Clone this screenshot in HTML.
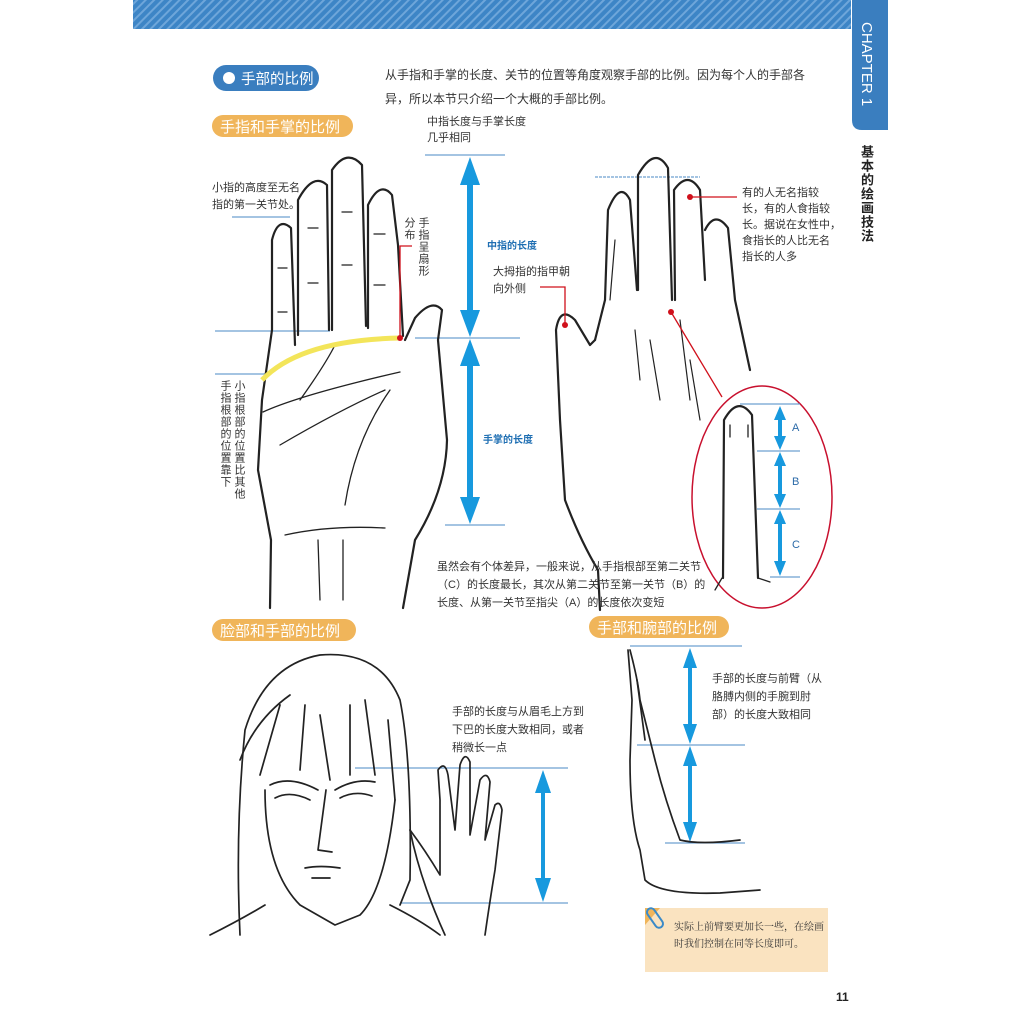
<!DOCTYPE html>
<html><head><meta charset="utf-8"><style>
html,body{margin:0;padding:0;background:#fff}
#p{position:relative;width:1024px;height:1024px;overflow:hidden;font-family:"Liberation Sans","Noto Sans CJK SC",sans-serif;color:#333}
.t{position:absolute;font-size:11px;line-height:17px;white-space:nowrap;color:#333}
.v{position:absolute;writing-mode:vertical-rl;font-size:11px;line-height:14px;letter-spacing:1px;color:#333}
svg{position:absolute;left:0;top:0}
</style></head><body><div id="p">
<svg width="1024" height="1024" viewBox="0 0 1024 1024">
<defs>
<pattern id="st" width="6" height="6" patternUnits="userSpaceOnUse" patternTransform="rotate(45)">
<rect width="6" height="6" fill="#3d85c6"/><rect width="2" height="6" fill="#6ea6da"/></pattern>
</defs>
<rect x="133" y="0" width="718" height="29" fill="url(#st)"/>
<path d="M852 0 H888 V130 H862 Q852 130 852 120 Z" fill="#3a7ebf"/>
<text x="862" y="22" fill="#fff" font-size="15" font-family="Liberation Sans" transform="rotate(90 862 22)">CHAPTER 1</text>
<!-- pills -->
<rect x="213" y="65" width="106" height="26" rx="13" fill="#3a7ebf"/>
<circle cx="229" cy="78" r="6" fill="#fff"/>
<text x="241" y="84" fill="#fff" font-size="14.5">手部的比例</text>
<rect x="212" y="115" width="141" height="22" rx="11" fill="#f0b55a"/>
<text x="220" y="132" fill="#fff" font-size="15">手指和手掌的比例</text>
<rect x="212" y="619" width="144" height="22" rx="11" fill="#f0b55a"/>
<text x="220" y="636" fill="#fff" font-size="15">脸部和手部的比例</text>
<rect x="589" y="616" width="140" height="22" rx="11" fill="#f0b55a"/>
<text x="597" y="633" fill="#fff" font-size="15">手部和腕部的比例</text>

<!-- ellipse zoom (behind lines/arrows) -->
<ellipse cx="762" cy="497" rx="70" ry="111" fill="#fff" stroke="#c8102e" stroke-width="1.5"/>
<g fill="none" stroke="#222" stroke-width="2.2" stroke-linecap="round">
<path d="M723,578 L724,420 Q738,395 752,415 L758,578"/>
<path d="M730,437 L730,425 M748,437 L748,425 M758,578 L770,582 M722,578 L715,590" stroke-width="1.3"/>
</g>

<!-- blue guide lines -->
<g stroke="#4a88c4" stroke-width="1">
<line x1="425" y1="155" x2="505" y2="155"/><line x1="415" y1="338" x2="520" y2="338"/><line x1="445" y1="525" x2="505" y2="525"/>
<line x1="232" y1="217" x2="290" y2="217"/><line x1="215" y1="331" x2="330" y2="331"/><line x1="215" y1="374" x2="265" y2="374"/>
<line x1="595" y1="177" x2="700" y2="177" stroke-dasharray="3 1"/>
<line x1="740" y1="404" x2="800" y2="404"/><line x1="757" y1="451" x2="800" y2="451"/><line x1="757" y1="509" x2="800" y2="509"/><line x1="770" y1="577" x2="800" y2="577"/>
<line x1="355" y1="768" x2="568" y2="768"/><line x1="400" y1="903" x2="568" y2="903"/>
<line x1="630" y1="646" x2="742" y2="646"/><line x1="637" y1="745" x2="745" y2="745"/><line x1="665" y1="843" x2="745" y2="843"/>
</g>
<!-- arrows -->
<g fill="#1799de">
<polygon points="470,157 480,185 473,185 473,310 480,310 470,337 460,310 467,310 467,185 460,185"/>
<polygon points="470,339 480,366 473,366 473,497 480,497 470,524 460,497 467,497 467,366 460,366"/>
<polygon points="780,406 786,420 782,420 782,436 786,436 780,450 774,436 778,436 778,420 774,420"/>
<polygon points="780,452 786,466 782,466 782,494 786,494 780,508 774,494 778,494 778,466 774,466"/>
<polygon points="780,510 786,524 782,524 782,561 786,561 780,576 774,561 778,561 778,524 774,524"/>
<polygon points="543,770 551,793 545,793 545,878 551,878 543,902 535,878 541,878 541,793 535,793"/>
<polygon points="690,648 697,668 692,668 692,724 697,724 690,744 683,724 688,724 688,668 683,668"/>
<polygon points="690,746 697,766 692,766 692,822 697,822 690,842 683,822 688,822 688,766 683,766"/>
</g>
<text x="487" y="249" fill="#1f6fb3" font-size="10" font-weight="bold">中指的长度</text>
<text x="483" y="443" fill="#1f6fb3" font-size="10" font-weight="bold">手掌的长度</text>
<g fill="#2b6aa8" font-size="11"><text x="792" y="431">A</text><text x="792" y="485">B</text><text x="792" y="548">C</text></g>

<!-- left palm hand -->
<g fill="none" stroke="#222" stroke-width="2.2" stroke-linecap="round" stroke-linejoin="round">
<path d="M270,608 L271,540 L258,470 L262,400 L272,330 L272,240 Q278,216 291,228 L295,345"/>
<path d="M298,335 L298,200 Q313,172 327,185 L329,330"/>
<path d="M332,330 L332,170 Q347,148 362,165 L366,326"/>
<path d="M368,328 L368,205 Q380,180 392,195 L398,245 L403,336"/>
<path d="M405,340 L415,318 Q432,298 442,310 L438,340 L447,440 Q446,490 415,540 L403,608"/>
<path d="M263,412 Q300,395 400,372 M280,445 Q340,410 385,390 M300,400 Q325,365 335,345 M345,505 Q355,440 390,390" stroke-width="1.3"/>
<path d="M285,535 Q330,525 385,528 M318,540 L320,600 M343,540 L343,600" stroke-width="1.3"/>
<path d="M278,268 L287,268 M278,312 L287,312 M308,228 L318,228 M308,283 L318,283 M342,212 L352,212 M342,265 L352,265 M374,234 L385,234 M374,285 L385,285" stroke-width="1.3"/>
</g>
<path d="M262,380 Q300,340 400,338" fill="none" stroke="#f3e55a" stroke-width="5"/>
<path d="M400,338 V246 H412" fill="none" stroke="#d0101b" stroke-width="1.3"/>
<circle cx="400" cy="338" r="3" fill="#d0101b"/>

<!-- right back hand -->
<g fill="none" stroke="#222" stroke-width="2.2" stroke-linecap="round" stroke-linejoin="round">
<path d="M600,610 L598,570 Q580,540 565,500 L560,420 L556,330 Q560,305 575,320 L590,345 L595,340"/>
<path d="M595,340 L605,300 L608,210 Q620,180 630,200 L637,290"/>
<path d="M638,290 L638,175 Q655,145 668,168 L672,300"/>
<path d="M675,300 L674,190 Q688,170 700,190 L705,280"/>
<path d="M705,230 Q715,210 728,228 L735,300 L750,370"/>
<path d="M615,240 L610,300 M635,330 L640,380 M650,340 L660,400 M680,320 L690,400 M690,360 L700,420" stroke-width="1.2"/>
</g>
<path d="M565,325 V287 H540" fill="none" stroke="#d0101b" stroke-width="1.3"/>
<circle cx="565" cy="325" r="3" fill="#d0101b"/>
<path d="M690,197 H737" fill="none" stroke="#d0101b" stroke-width="1.3"/>
<circle cx="690" cy="197" r="3" fill="#d0101b"/>
<path d="M671,312 L722,397" fill="none" stroke="#d0101b" stroke-width="1.3"/>
<circle cx="671" cy="312" r="3" fill="#d0101b"/>

<!-- face -->
<g fill="none" stroke="#222" stroke-width="1.7" stroke-linecap="round" stroke-linejoin="round">
<path d="M265,790 Q265,870 300,905 L335,925 L360,915 Q385,890 395,800"/>
<path d="M240,935 Q235,830 245,730 Q265,665 320,655 Q380,650 400,700 Q412,760 410,880 L400,905"/>
<path d="M240,760 Q255,720 290,695 M260,775 L280,705 M300,770 L305,705 M330,780 L320,715 M350,775 L350,705 M375,775 L365,700 M395,800 L388,720"/>
<path d="M270,785 Q290,775 318,790 M335,790 Q355,778 375,782"/>
<path d="M275,798 Q290,790 310,800 M340,798 Q355,790 372,796"/>
<path d="M326,790 L318,850 L332,852 M305,868 Q320,865 340,868 M312,878 L330,878"/>
<path d="M210,935 Q240,920 265,905 M390,905 Q420,920 440,935"/>
</g>
<!-- small hand -->
<g fill="none" stroke="#222" stroke-width="1.7" stroke-linecap="round" stroke-linejoin="round">
<path d="M410,830 Q425,850 440,875 L440,800 L438,770 Q445,760 448,775 L455,830 L460,765 Q465,750 470,762 L470,835 L480,780 Q487,770 490,782 L485,840 L495,805 Q500,800 502,810 L495,870 Q490,900 485,935"/>
<path d="M410,830 Q420,880 445,935"/>
</g>
<!-- arm -->
<g fill="none" stroke="#222" stroke-width="1.7" stroke-linecap="round" stroke-linejoin="round">
<path d="M630,650 Q638,680 640,700 L650,740 L655,760 Q665,800 680,840 Q700,845 740,840"/>
<path d="M628,650 L632,700 L630,760 Q630,820 640,850 L645,880 Q660,895 720,893 L760,890"/>
<path d="M637,680 L645,740"/>
</g>
<!-- note -->
<rect x="645" y="908" width="183" height="64" fill="#fae3c0"/>
<path d="M645,908 L660,908 L645,925 Z" fill="#f0b55a"/>
<rect x="651" y="907" width="8" height="22" rx="4" fill="none" stroke="#3a8ac8" stroke-width="2" transform="rotate(-35 655 918)"/>
<text x="674" y="930" font-size="10" fill="#333" font-family="Liberation Serif,Noto Serif CJK SC,serif">实际上前臂要更加长一些，在绘画</text>
<text x="674" y="947" font-size="10" fill="#333" font-family="Liberation Serif,Noto Serif CJK SC,serif">时我们控制在同等长度即可。</text>
<text x="836" y="1001" font-size="12" font-weight="bold" fill="#222">11</text>
</svg>

<div class="v" style="left:858px;top:145px;font-size:13px;font-weight:bold;color:#222;line-height:16px">基本的绘画技法</div>
<div class="t" style="left:385px;top:63px;font-size:12px;line-height:24px">从手指和手掌的长度、关节的位置等角度观察手部的比例。因为每个人的手部各<br>异，所以本节只介绍一个大概的手部比例。</div>
<div class="t" style="left:427px;top:114px;line-height:16px">中指长度与手掌长度<br>几乎相同</div>
<div class="t" style="left:212px;top:180px">小指的高度至无名<br>指的第一关节处。</div>
<div class="v" style="left:402px;top:217px">手指呈扇形<br>分布</div>
<div class="v" style="left:218px;top:380px;line-height:14px">小指根部的位置比其他<br>手指根部的位置靠下</div>
<div class="t" style="left:742px;top:185px;line-height:16px">有的人无名指较<br>长，有的人食指较<br>长。据说在女性中，<br>食指长的人比无名<br>指长的人多</div>
<div class="t" style="left:493px;top:264px">大拇指的指甲朝<br>向外侧</div>
<div class="t" style="left:437px;top:558px;line-height:18px">虽然会有个体差异，一般来说，从手指根部至第二关节<br>（C）的长度最长，其次从第二关节至第一关节（B）的<br>长度、从第一关节至指尖（A）的长度依次变短</div>
<div class="t" style="left:452px;top:703px;line-height:18px">手部的长度与从眉毛上方到<br>下巴的长度大致相同，或者<br>稍微长一点</div>
<div class="t" style="left:712px;top:670px;line-height:18px">手部的长度与前臂（从<br>胳膊内侧的手腕到肘<br>部）的长度大致相同</div>
</div></body></html>
